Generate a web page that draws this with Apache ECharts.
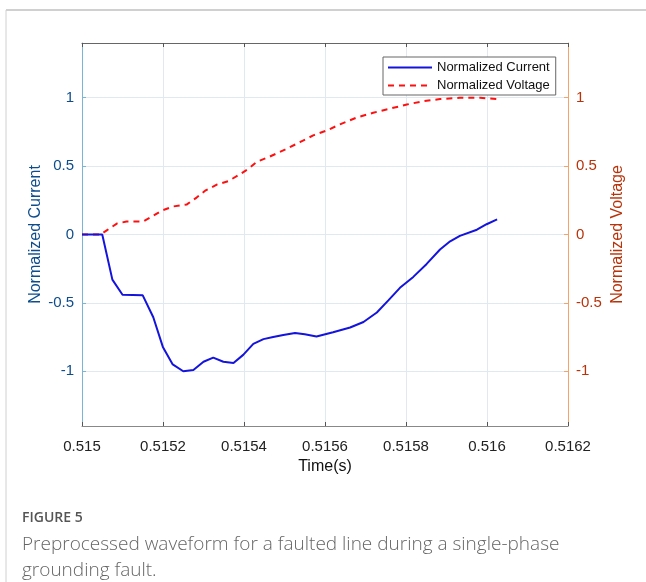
<!DOCTYPE html>
<html><head><meta charset="utf-8">
<script src="https://cdn.jsdelivr.net/npm/echarts@6/dist/echarts.min.js"></script>
<style>html,body{margin:0;padding:0;background:#fff}#c{width:646px;height:582px}</style>
</head><body><div id="c"></div>
<script>
const currentT = [0.515,0.51505,0.515075,0.5151,0.51515,0.515176,0.5152,0.515224,0.51525,0.515275,0.5153,0.515324,0.515349,0.515374,0.515398,0.515423,0.515448,0.515472,0.515497,0.515526,0.51555,0.515579,0.51562,0.515662,0.515695,0.515728,0.515757,0.515785,0.515818,0.515851,0.515884,0.515909,0.515933,0.515975,0.515999,0.516025];
const currentV = [0,0,-0.33,-0.44,-0.445,-0.605,-0.825,-0.95,-1.0,-0.99,-0.93,-0.90,-0.93,-0.94,-0.88,-0.80,-0.765,-0.75,-0.735,-0.72,-0.73,-0.745,-0.715,-0.68,-0.64,-0.57,-0.48,-0.39,-0.31,-0.215,-0.11,-0.05,-0.01,0.035,0.075,0.11];
const voltageT = [0.515,0.515046,0.515061,0.515086,0.51511,0.515151,0.515172,0.515197,0.515225,0.515259,0.515283,0.515304,0.515333,0.515361,0.51539,0.515411,0.515431,0.515464,0.515501,0.515538,0.515571,0.515604,0.515637,0.515678,0.515719,0.51576,0.515802,0.515843,0.515884,0.515933,0.515983,0.516024];
const voltageV = [0,0,0.03,0.08,0.095,0.095,0.13,0.175,0.205,0.22,0.27,0.32,0.365,0.39,0.44,0.48,0.53,0.57,0.62,0.675,0.725,0.76,0.805,0.855,0.89,0.92,0.95,0.975,0.99,1.0,1.0,0.99];
const yTicks = [-1,-0.5,0,0.5,1];
const seriesNames = ['Normalized Current','Normalized Voltage'];

const font = 'Liberation Sans, Arial, sans-serif';
const chart = echarts.init(document.getElementById('c'), null, {renderer:'canvas'});
const gridColor = '#dfe9ef';
function yAxis(pos, lineColor, labelColor, name, gap){
  return {
    type:'value', position:pos, min:-1.4, max:1.4,
    name:name, nameLocation:'middle', nameGap:gap, nameRotate:90, nameMoveOverlap:false,
    nameTextStyle:{color:labelColor, fontSize:16, fontFamily:font},
    axisLine:{show:true, onZero:false, lineStyle:{color:lineColor, width:1}},
    axisTick:{show:true, inside:true, length:4, customValues:yTicks, lineStyle:{color:lineColor}},
    axisLabel:{customValues:yTicks, color:labelColor, fontSize:15, fontFamily:font, margin:8},
    splitLine:{show: pos==='left', lineStyle:{color:gridColor, width:1}}
  };
}
chart.setOption({
  animation:false,
  grid:{left:82, right:78, top:43, bottom:156, containLabel:false},
  legend:{
    orient:'vertical', left:383, top:57, itemWidth:44, itemHeight:10, itemGap:5,
    backgroundColor:'#fff', borderColor:'#666', borderWidth:1, borderRadius:0, padding:[4,6,3,4],
    itemStyle:{opacity:0},
    textStyle:{fontSize:13, fontFamily:font, color:'#111'},
    data:seriesNames
  },
  xAxis:[{
    type:'value', min:0.515, max:0.5162, interval:0.0002,
    name:'Time(s)', nameLocation:'middle', nameGap:33,
    nameTextStyle:{color:'#111', fontSize:16, fontFamily:font},
    axisLine:{onZero:false, lineStyle:{color:'#888'}},
    axisTick:{inside:true, length:4, lineStyle:{color:'#555'}},
    axisLabel:{color:'#222', fontSize:15, fontFamily:font, margin:13, formatter:v=>String(+v.toFixed(4))},
    splitLine:{show:true, lineStyle:{color:gridColor}}
  },{
    type:'value', position:'top', min:0.515, max:0.5162, interval:0.0002,
    axisLine:{onZero:false, lineStyle:{color:'#666'}},
    axisTick:{inside:true, length:4, lineStyle:{color:'#555'}},
    axisLabel:{show:false}, splitLine:{show:false}
  }],
  yAxis:[
    yAxis('left','#7ab6d4','#0e4d8c','Normalized Current',38),
    yAxis('right','#f2a46a','#b8330a','Normalized Voltage',42)
  ],
  series:[
    {name:seriesNames[0], type:'line', xAxisIndex:0, yAxisIndex:0, showSymbol:false, symbol:'none',
     lineStyle:{color:'#1414dc', width:2}, itemStyle:{color:'#1414dc'},
     data:currentT.map((t,i)=>[t,currentV[i]]), z:3},
    {name:seriesNames[1], type:'line', xAxisIndex:0, yAxisIndex:1, showSymbol:false, symbol:'none',
     lineStyle:{color:'#ff1010', width:2, type:[6,5]}, itemStyle:{color:'#ff1010'},
     data:voltageT.map((t,i)=>[t,voltageV[i]]), z:2}
  ],
  graphic:[
    {type:'line', shape:{x1:6, y1:10, x2:646, y2:10}, style:{stroke:'#d0d0d0', lineWidth:2}},
    {type:'line', shape:{x1:6, y1:10, x2:6, y2:582}, style:{stroke:'#d0d0d0', lineWidth:1}},
    {type:'text', left:22, top:511, style:{text:'FIGURE 5', fill:'#555', font:'600 14px "Open Sans", sans-serif'}},
    {type:'text', left:22, top:532, style:{text:'Preprocessed waveform for a faulted line during a single-phase\ngrounding fault.', fill:'#666', font:'300 19px "Open Sans", sans-serif', lineHeight:26}}
  ]
});
</script></body></html>
